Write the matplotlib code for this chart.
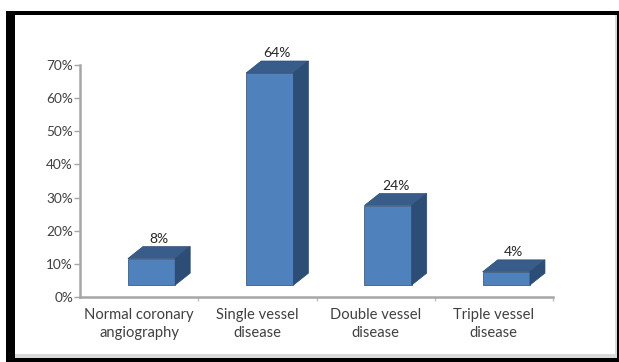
import numpy as np
import matplotlib.pyplot as plt
from matplotlib.patches import Polygon, Rectangle

# chart data
categories = ["Normal coronary\nangiography", "Single vessel\ndisease",
              "Double vessel\ndisease", "Triple vessel\ndisease"]
values = [8, 64, 24, 4]
yticks = [0, 10, 20, 30, 40, 50, 60, 70]

W, H = 619, 362
plt.rcParams['font.family'] = ['Lato', 'DejaVu Sans']

fig = plt.figure(figsize=(W / 100, H / 100), dpi=100)
fig.patch.set_facecolor('white')


def fig_rect(x0, y0, x1, y1, color):
    # rectangle given in pixels from the top-left corner
    fig.add_artist(Rectangle((x0 / W, 1 - y1 / H), (x1 - x0) / W, (y1 - y0) / H,
                             transform=fig.transFigure, facecolor=color,
                             edgecolor='none', zorder=0))


# black frame round the chart
fig_rect(6, 11, 619, 362, 'black')
fig_rect(15, 15, 617, 358, '#d9d9d9')
fig_rect(15, 15, 615, 354, 'white')

ax = fig.add_axes([80 / W, (H - 297) / H, 473 / W, 232 / H])
ax.set_facecolor('none')
ax.set_xlim(0, 4)
ax.set_ylim(0, 70)

front = '#4F81BD'
side = '#2C4D75'
top = '#385D8A'
edge = '#2a4a70'

dx, dy = 0.127, 3.6   # depth of the 3d boxes
base = dy
bw = 0.40
xl = np.arange(len(values)) + 0.405

ax.bar(xl, values, width=bw, bottom=base, align='edge', color=front,
       edgecolor=edge, linewidth=0.5, zorder=3)

for x0, v in zip(xl, values):
    x1 = x0 + bw
    t = base + v
    ax.add_patch(Polygon([(x0, t), (x1, t), (x1 + dx, t + dy), (x0 + dx, t + dy)],
                         closed=True, facecolor=top, edgecolor=edge,
                         linewidth=0.5, zorder=3, clip_on=False))
    ax.add_patch(Polygon([(x1, base), (x1 + dx, base + dy), (x1 + dx, t + dy), (x1, t)],
                         closed=True, facecolor=side, edgecolor=edge,
                         linewidth=0.5, zorder=3, clip_on=False))
    ax.annotate(f"{v}%", (x0 + bw / 2 + dx / 2, t + dy), xytext=(0, 5.5),
                textcoords='offset points', ha='center', va='center',
                fontsize=10, color='#262626', zorder=4, annotation_clip=False)

for s in ['top', 'right']:
    ax.spines[s].set_visible(False)
for s in ['left', 'bottom']:
    ax.spines[s].set_color('#a6a6a6')
    ax.spines[s].set_linewidth(1.8)

ax.set_yticks(yticks)
ax.set_yticklabels([f"{v}%" for v in yticks])
ax.tick_params(axis='y', length=4, width=1, color='#a6a6a6', labelcolor='#404040',
               labelsize=9.8, pad=1)

ax.set_xticks(np.arange(len(categories)) + 0.5)
ax.set_xticklabels(categories, linespacing=1.35)
ax.tick_params(axis='x', length=0, labelcolor='#404040', labelsize=10.6, pad=8)
ax.set_xticks([1, 2, 3, 4], minor=True)
ax.tick_params(axis='x', which='minor', length=3, width=1, color='#c0c0c0')

fig.savefig('out.png', dpi=100)
